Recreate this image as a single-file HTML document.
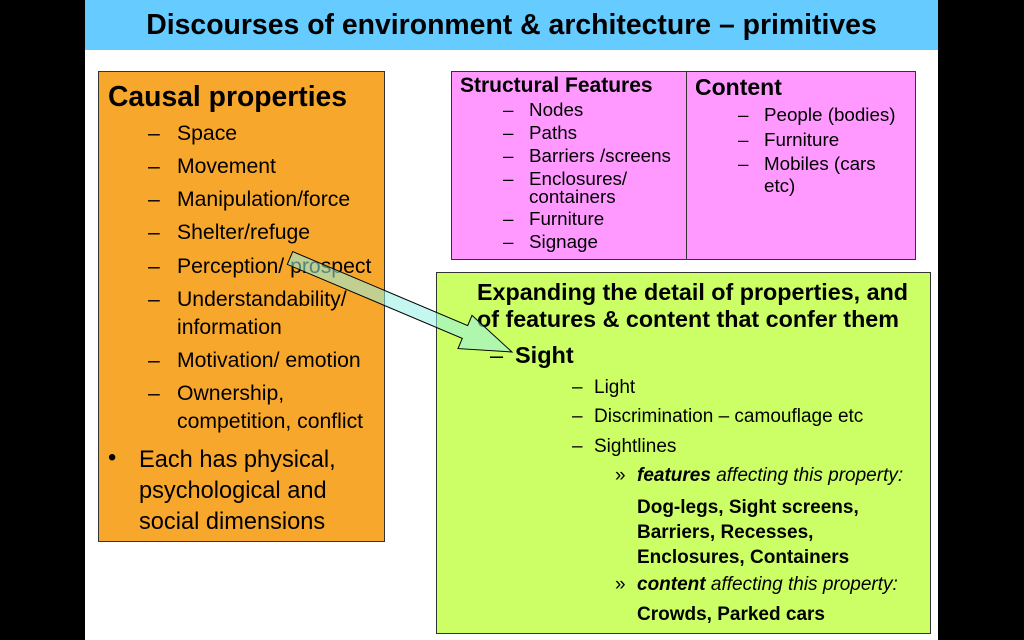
<!DOCTYPE html>
<html><head><meta charset="utf-8"><style>
body{margin:0;width:1024px;height:640px;background:#000;position:relative;overflow:hidden;font-family:"Liberation Sans",Arial,sans-serif;color:#000}
.a{position:absolute;white-space:nowrap;margin-top:2px}
#slide{position:absolute;left:85px;top:0;width:853px;height:640px;background:#fff}
#title{position:absolute;left:85px;top:0;width:853px;height:50px;background:#66ccff;text-align:center;font-weight:bold;font-size:28.4px;line-height:50px}
.box{position:absolute;border:1px solid #333;box-sizing:border-box}
.o{font-size:21.2px}
.m{font-size:18.8px}
.c{font-size:18.8px}
.g{font-size:19px}
</style></head><body>
<div id="slide"></div>
<div id="title">Discourses of environment &amp; architecture – primitives</div>
<div class="box" style="left:98px;top:71px;width:287px;height:471px;background:#f7a72c"></div>
<div class="a" style="left:108px;top:78px;font-size:28.3px;font-weight:bold">Causal properties</div>
<div class="a o" style="left:148px;top:120px">–</div><div class="a o" style="left:177px;top:120px">Space</div>
<div class="a o" style="left:148px;top:153px">–</div><div class="a o" style="left:177px;top:153px">Movement</div>
<div class="a o" style="left:148px;top:186px">–</div><div class="a o" style="left:177px;top:186px">Manipulation/force</div>
<div class="a o" style="left:148px;top:219px">–</div><div class="a o" style="left:177px;top:219px">Shelter/refuge</div>
<div class="a o" style="left:148px;top:253px">–</div><div class="a o" style="left:177px;top:253px">Perception/ prospect</div>
<div class="a o" style="left:148px;top:286px">–</div><div class="a o" style="left:177px;top:286px">Understandability/</div>
<div class="a o" style="left:177px;top:314px">information</div>
<div class="a o" style="left:148px;top:347px">–</div><div class="a o" style="left:177px;top:347px">Motivation/ emotion</div>
<div class="a o" style="left:148px;top:380px">–</div><div class="a o" style="left:177px;top:380px">Ownership,</div>
<div class="a o" style="left:177px;top:408px">competition, conflict</div>
<div class="a" style="left:108px;top:443px;font-size:23.6px">•</div>
<div class="a" style="left:139px;top:443px;font-size:23.6px;line-height:31px">Each has physical,<br>psychological and<br>social dimensions</div>

<div class="box" style="left:451px;top:71px;width:465px;height:189px;background:#ff99ff"></div>
<div style="position:absolute;left:686px;top:71px;width:1px;height:189px;background:#333"></div>
<div class="a" style="left:460px;top:72px;font-size:21px;font-weight:bold">Structural Features</div>
<div class="a m" style="left:503px;top:97px">–</div><div class="a m" style="left:529px;top:97px">Nodes</div>
<div class="a m" style="left:503px;top:120px">–</div><div class="a m" style="left:529px;top:120px">Paths</div>
<div class="a m" style="left:503px;top:143px">–</div><div class="a m" style="left:529px;top:143px">Barriers /screens</div>
<div class="a m" style="left:503px;top:166px">–</div><div class="a m" style="left:529px;top:166px">Enclosures/</div>
<div class="a m" style="left:529px;top:184px">containers</div>
<div class="a m" style="left:503px;top:206px">–</div><div class="a m" style="left:529px;top:206px">Furniture</div>
<div class="a m" style="left:503px;top:229px">–</div><div class="a m" style="left:529px;top:229px">Signage</div>
<div class="a" style="left:695px;top:72px;font-size:23px;font-weight:bold">Content</div>
<div class="a c" style="left:738px;top:102px">–</div><div class="a c" style="left:764px;top:102px">People (bodies)</div>
<div class="a c" style="left:738px;top:127px">–</div><div class="a c" style="left:764px;top:127px">Furniture</div>
<div class="a c" style="left:738px;top:151px">–</div><div class="a c" style="left:764px;top:151px">Mobiles (cars</div>
<div class="a c" style="left:764px;top:173px">etc)</div>

<div class="box" style="left:436px;top:272px;width:495px;height:362px;background:#ccff66"></div>
<div class="a" style="left:477px;top:277px;font-size:23.3px;font-weight:bold;line-height:27px">Expanding the detail of properties, and<br>of features &amp; content that confer them</div>
<div class="a" style="left:490px;top:340px;font-size:23.5px">–</div>
<div class="a" style="left:515px;top:340px;font-size:23.5px;font-weight:bold">Sight</div>
<div class="a g" style="left:572px;top:375px">–</div><div class="a g" style="left:594px;top:375px">Light</div>
<div class="a g" style="left:572px;top:404px">–</div><div class="a g" style="left:594px;top:404px">Discrimination – camouflage etc</div>
<div class="a g" style="left:572px;top:434px">–</div><div class="a g" style="left:594px;top:434px">Sightlines</div>
<div class="a g" style="left:615px;top:463px">»</div><div class="a g" style="left:637px;top:463px"><b><i>features</i></b> <i>affecting this property:</i></div>
<div class="a g" style="left:637px;top:493px;font-weight:bold;line-height:25px">Dog-legs, Sight screens,<br>Barriers, Recesses,<br>Enclosures, Containers</div>
<div class="a g" style="left:615px;top:572px">»</div><div class="a g" style="left:637px;top:572px"><b><i>content</i></b> <i>affecting this property:</i></div>
<div class="a g" style="left:637px;top:602px;font-weight:bold">Crowds, Parked cars</div>

<svg width="1024" height="640" style="position:absolute;left:0;top:0">
<polygon points="292.7,251.6 467.7,325.6 472,315.4 512,352 458,348.6 462.3,338.4 287.3,264.4" fill="rgba(150,240,230,0.55)" stroke="#000" stroke-width="1"/>
</svg>
</body></html>
